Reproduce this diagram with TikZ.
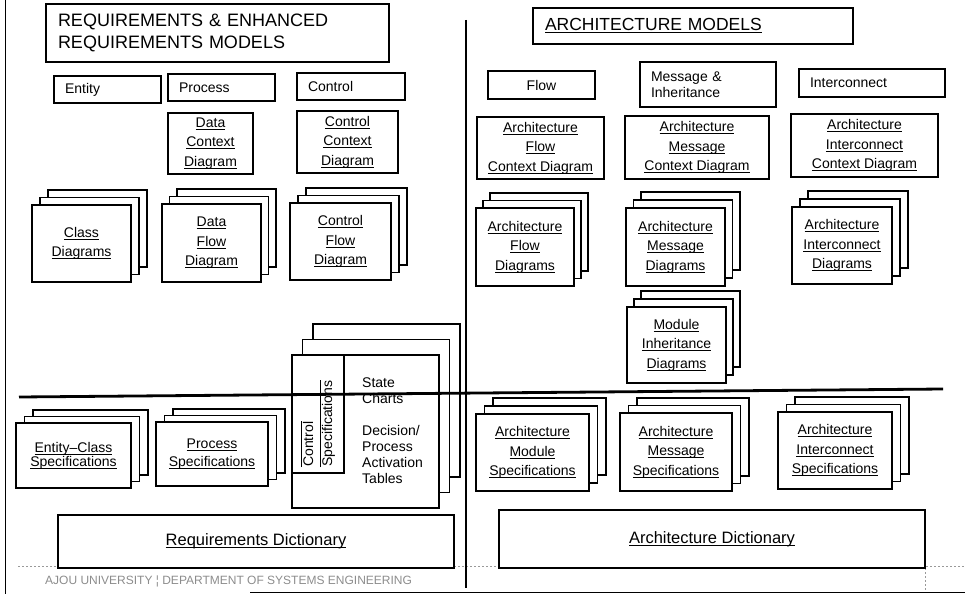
\documentclass[tikz,border=0pt]{standalone}
\usepackage{fontspec}
\setmainfont{Liberation Sans}
\usetikzlibrary{shadows}
\newcommand\lbl{\fontsize{14}{19.5}\selectfont}
% underline drawn just under the baseline
\newcommand\ulw[1]{{\setbox0\hbox{#1}\rlap{\vrule width\wd0 height -1.4pt depth 2.3pt}\box0}}
\tikzset{
  every node/.style={font=\lbl},
  box/.style={draw, line width=1.4pt, fill=white, inner sep=2pt, align=center},
  docstack/.style n args={2}{
    general shadow={shadow xshift=2*#1, shadow yshift=2*#2, draw=black, fill=white, line width=1.4pt},
    general shadow={shadow xshift=#1, shadow yshift=#2, draw=black, fill=white, line width=1.4pt},
    box},
  divider/.style={line width=2.8pt},
  faint/.style={draw=black!40, line width=0.6pt, dash pattern=on 2pt off 2pt},
}
\begin{document}
\begin{tikzpicture}[x=1pt,y=-1pt]
\useasboundingbox (0,0) rectangle (965,594);

% faint page frame remnants
\coordinate (fl) at (18,566);
\coordinate (fr) at (965,566);
\draw[faint] (fl) -- (fr);
\coordinate (vt) at (925,568);
\coordinate (vb) at (925,591);
\draw[faint] (vt) -- (vb);

% ---------- requirements side ----------
\node[box, minimum width=343, minimum height=58, text width=319, inner xsep=12pt, align=left,
      font=\fontsize{18}{21.5}\selectfont] (reqtitle) at (217.5,33)
  {REQUIREMENTS \& ENHANCED\\REQUIREMENTS MODELS};

\node[box, minimum height=27, text width=85, inner xsep=11pt, align=left] (entity) at (107.5,89.5) {Entity};
\node[box, minimum height=27, text width=85, inner xsep=11pt, align=left] (process) at (221.5,87.5) {Process};
\node[box, minimum height=27, text width=86, inner xsep=11pt, align=left] (control) at (351,86.5) {Control};

\node[box, minimum width=85, minimum height=61] (dcd) at (210.5,143.5)
  {\ulw{Data}\\\ulw{Context}\\\ulw{Diagram}};
\node[box, minimum width=101, minimum height=62] (ccd) at (347.5,142)
  {\ulw{Control}\\\ulw{Context}\\\ulw{Diagram}};

\node[docstack={8pt}{7.5pt}, minimum width=99, minimum height=77] (cls) at (81.5,243.5)
  {\ulw{Class}\\\ulw{Diagrams}};
\node[docstack={7.5pt}{7.5pt}, minimum width=99, minimum height=78] (dfd) at (211.5,243)
  {\ulw{Data}\\\ulw{Flow}\\\ulw{Diagram}};
\node[docstack={8pt}{7.5pt}, minimum width=101, minimum height=77] (cfd) at (340.5,241.5)
  {\ulw{Control}\\\ulw{Flow}\\\ulw{Diagram}};

\node[docstack={8.5pt}{6.5pt}, minimum width=115, minimum height=65,
      font=\fontsize{14}{11.5}\selectfont] (ecs) at (73.5,455.5)
  {\ulw{Entity–Class}\\\ulw{Specifications}};
\node[docstack={8.5pt}{6.5pt}, minimum width=112, minimum height=64,
      font=\fontsize{14}{18}\selectfont] (ps) at (212,454)
  {\ulw{Process}\\\ulw{Specifications}};

\node[docstack={10.5pt}{15.5pt}, minimum width=147, minimum height=153] (cs) at (365.5,431.5) {};
\node[draw, line width=1.4pt, minimum width=52, minimum height=118, inner sep=0pt] (csin) at (318,414) {};
\node[rotate=90, anchor=base west, inner xsep=0pt, inner ysep=1pt, font=\fontsize{14}{16}\selectfont]
  (csa) at (313,467) {Control};
\node[rotate=90, anchor=base west, inner xsep=0pt, inner ysep=1pt, font=\fontsize{14}{16}\selectfont]
  (csb) at (332,467) {Specifications};
\draw[line width=0.9pt] (csa.north west) -- (csa.north east);
\draw[line width=0.9pt] (csb.north west) -- (csb.north east);
% base anchor of a multi-line node sits on its last line
\node[anchor=base west, align=left, inner sep=0pt, font=\fontsize{14}{16}\selectfont]
  (sc) at (362,403) {State\\Charts};
\node[anchor=base west, align=left, inner sep=0pt, font=\fontsize{14}{16}\selectfont]
  (dpat) at (362,483) {Decision/\\Process\\Activation\\Tables};

\node[box, minimum width=396, minimum height=53, font=\fontsize{16.5}{19}\selectfont] (rd) at (256,541.5)
  {\ulw{Requirements Dictionary}};

% ---------- architecture side ----------
\node[box, minimum height=36, text width=296, inner xsep=12pt, align=left,
      font=\fontsize{17.5}{20}\selectfont] (archtitle) at (693,26)
  {\ulw{ARCHITECTURE MODELS}};

\node[box, minimum width=107, minimum height=28] (flow) at (541.5,85) {Flow};
\node[box, minimum height=45, text width=114, inner xsep=11pt, align=left,
      font=\fontsize{14}{16}\selectfont] (msg) at (708,84.5) {Message \&\\Inheritance};
\node[box, minimum height=28, text width=124, inner xsep=11pt, align=left] (ic) at (872,83) {Interconnect};

\node[box, minimum width=127, minimum height=62] (afcd) at (540.5,148)
  {\ulw{Architecture}\\\ulw{Flow}\\\ulw{Context Diagram}};
\node[box, minimum width=144, minimum height=63] (amcd) at (697,147.5)
  {\ulw{Architecture}\\\ulw{Message}\\\ulw{Context Diagram}};
\node[box, minimum width=147, minimum height=63] (aicd) at (864.5,145.5)
  {\ulw{Architecture}\\\ulw{Interconnect}\\\ulw{Context Diagram}};

\node[docstack={7pt}{7.5pt}, minimum width=98, minimum height=78] (afd) at (525,247)
  {\ulw{Architecture}\\\ulw{Flow}\\\ulw{Diagrams}};
\node[docstack={7.5pt}{8pt}, minimum width=99, minimum height=78] (amd) at (675.5,247)
  {\ulw{Architecture}\\\ulw{Message}\\\ulw{Diagrams}};
\node[docstack={8pt}{8pt}, minimum width=100, minimum height=77] (aid) at (842,245.5)
  {\ulw{Architecture}\\\ulw{Interconnect}\\\ulw{Diagrams}};
\node[docstack={7pt}{8pt}, minimum width=99, minimum height=76] (mid) at (676.5,345)
  {\ulw{Module}\\\ulw{Inheritance}\\\ulw{Diagrams}};

\node[docstack={8.5pt}{8pt}, minimum width=113, minimum height=77] (amods) at (532.5,452.5)
  {\ulw{Architecture}\\\ulw{Module}\\\ulw{Specifications}};
\node[docstack={8.5pt}{7.5pt}, minimum width=112, minimum height=78] (amsgs) at (676,452)
  {\ulw{Architecture}\\\ulw{Message}\\\ulw{Specifications}};
\node[docstack={8.5pt}{7.5pt}, minimum width=114, minimum height=77] (aics) at (835,450.5)
  {\ulw{Architecture}\\\ulw{Interconnect}\\\ulw{Specifications}};

\node[box, minimum width=426, minimum height=58, font=\fontsize{16.5}{19}\selectfont] (ad) at (712,539)
  {\ulw{Architecture Dictionary}};

% ---------- frame and dividers ----------
\coordinate (lbt) at (5.5,0);
\coordinate (lbb) at (5.5,594);
\draw[line width=1.8pt] (lbt) -- (lbb);
\coordinate (bl) at (250,592.5);
\coordinate (br) at (965,592.5);
\draw[line width=1.4pt] (bl) -- (br);
\coordinate (vtop) at (466,20);
\coordinate (vbot) at (466,588);
\draw[divider] (vtop) -- (vbot);
\coordinate (hl) at (19,397);
\coordinate (hr) at (943,389);
\draw[divider] (hl) -- (hr);

\node[anchor=west, inner sep=0pt, text=black!45, font=\fontsize{12}{14}\selectfont] (foot) at (45,581)
  {AJOU UNIVERSITY ¦ DEPARTMENT OF SYSTEMS ENGINEERING};
\end{tikzpicture}
\end{document}
